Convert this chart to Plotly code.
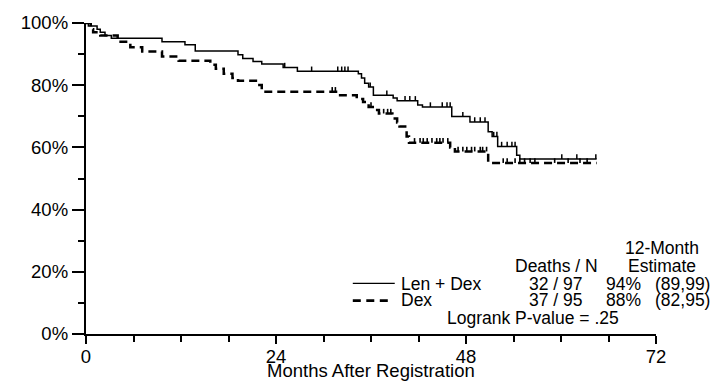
import numpy as np
import plotly.graph_objects as go

# ---------------- data ----------------
len_dex_times = [0.3, 1.4, 1.8, 2.4, 3.2, 9.6, 12.5, 13.8, 19.2, 19.8, 21.1, 22.2, 24.9, 26.7,
                 34.4, 34.8, 35.2, 35.7, 36.3, 38.8, 39.3, 41.9, 42.5, 46.2, 48.5, 50.8, 51.3,
                 52.0, 54.4, 54.8]
len_dex_surv = [99.0, 98.0, 97.0, 96.0, 95.1, 94.0, 93.0, 91.0, 89.8, 88.6, 87.6, 86.8, 85.7, 84.5,
                83.7, 82.3, 80.6, 79.4, 76.8, 75.9, 75.0, 73.6, 73.0, 69.9, 68.2, 65.0, 63.5,
                60.3, 57.5, 56.3]
len_dex_censor = [25.1, 28.5, 31.8, 32.3, 32.7, 33.1, 35.9, 38.0, 40.3, 40.9, 41.6, 43.5, 45.0,
                  45.6, 46.0, 47.6, 49.1, 49.8, 50.4, 51.5, 51.9, 52.5, 53.2, 53.8, 54.2, 60.1,
                  62.0, 64.4]
len_dex_end = 64.5

dex_times = [0.6, 0.9, 1.8, 4.0, 5.6, 7.1, 9.6, 11.7, 15.7, 16.4, 17.4, 18.5, 19.2, 21.7, 22.2,
             31.8, 34.2, 35.0, 35.7, 36.4, 37.0, 38.7, 39.3, 39.6, 40.5, 40.8, 46.0, 46.6, 50.8]
dex_surv = [98.0, 97.0, 96.0, 94.0, 92.2, 90.8, 89.2, 87.9, 86.6, 85.3, 83.7, 82.3, 81.4, 80.1, 77.9,
            76.8, 75.6, 74.6, 73.0, 72.0, 70.9, 69.3, 68.0, 66.7, 63.5, 61.5, 60.0, 58.7, 55.0]
dex_censor = [31.1, 31.5, 36.0, 37.6, 38.1, 38.5, 41.5, 42.2, 42.6, 43.1, 43.7, 44.3, 44.7, 45.1,
              45.7, 47.0, 47.6, 48.1, 48.7, 49.1, 49.8, 50.1, 50.6, 52.7, 53.2, 54.2, 54.8, 55.4,
              56.1, 56.7, 59.2, 60.9, 62.4, 63.3]
dex_end = 64.5

x_tick_vals = [0, 24, 48, 72]
y_tick_vals = [0, 20, 40, 60, 80, 100]
y_tick_text = ["0%", "20%", "40%", "60%", "80%", "100%"]

arms = ["Len + Dex", "Dex"]
deaths_n = ["32 / 97", "37 / 95"]
est_12m = ["94%", "88%"]
est_ci = ["(89,99)", "(82,95)"]
p_text = "Logrank P-value = .25"

FONT = "Liberation Sans, Arial, sans-serif"
TICK_H = 1.5  # censor tick height in %
X_MAX = 72.0


def step_xy(times, surv, end):
    return [0] + list(times) + [end], [100] + list(surv) + [surv[-1]]


def censor_xy(times, surv, cens):
    t = np.asarray(times)
    xs, ys = [], []
    for c in cens:
        i = np.searchsorted(t, c, side="right") - 1
        s = 100.0 if i < 0 else surv[i]
        xs += [c, c, None]
        ys += [s, s + TICK_H, None]
    return xs, ys


fig = go.Figure()

x1, y1 = step_xy(len_dex_times, len_dex_surv, len_dex_end)
fig.add_trace(go.Scatter(x=x1, y=y1, mode="lines", line=dict(color="black", width=1.5, shape="hv"),
                         cliponaxis=False, hoverinfo="skip"))
cx, cy = censor_xy(len_dex_times, len_dex_surv, len_dex_censor)
fig.add_trace(go.Scatter(x=cx, y=cy, mode="lines", line=dict(color="black", width=1.5),
                         cliponaxis=False, hoverinfo="skip"))

x2, y2 = step_xy(dex_times, dex_surv, dex_end)
fig.add_trace(go.Scatter(x=x2, y=y2, mode="lines",
                         line=dict(color="black", width=2.5, shape="hv", dash="8px,5px"),
                         cliponaxis=False, hoverinfo="skip"))
cx, cy = censor_xy(dex_times, dex_surv, dex_censor)
fig.add_trace(go.Scatter(x=cx, y=cy, mode="lines", line=dict(color="black", width=1.6),
                         cliponaxis=False, hoverinfo="skip"))

axis_common = dict(showline=True, linecolor="black", linewidth=2.4, showgrid=False, zeroline=False,
                   ticks="outside", tickcolor="black", tickwidth=2.4,
                   tickfont=dict(family=FONT, size=18.5, color="black"))

fig.update_xaxes(range=[0, X_MAX], tickvals=x_tick_vals, ticklen=8, ticklabelstandoff=-3,
                 minor=dict(dtick=6, tick0=0, ticklen=6, tickwidth=2.4, tickcolor="black",
                            ticks="outside", showgrid=False),
                 **axis_common)
fig.update_yaxes(range=[0, 100], tickvals=y_tick_vals, ticktext=y_tick_text, ticklen=12,
                 minor=dict(dtick=10, tick0=0, ticklen=6, tickwidth=2.4, tickcolor="black",
                            ticks="outside", showgrid=False),
                 **axis_common)

LF = dict(family=FONT, size=17.5, color="black")


def note(xm, y, text, anchor):
    # xm in months; placed via paper x so texts beyond the axis end stay visible
    return dict(x=xm / X_MAX, y=y, xref="paper", yref="y", text=text, showarrow=False,
                xanchor=anchor, yanchor="middle", font=LF)


ann = [dict(x=36, y=-0.118, xref="x", yref="paper", text="Months After Registration",
            showarrow=False, xanchor="center", yanchor="middle",
            font=dict(family=FONT, size=18.5, color="black"))]
ann.append(note(72.75, 27.5, "12-Month", "center"))
ann.append(note(72.75, 21.9, "Estimate", "center"))
ann.append(note(59.4, 21.9, "Deaths / N", "center"))
rows_y = [16.0, 10.8]
for i in range(2):
    ann.append(note(39.5, rows_y[i], arms[i], "left"))
    ann.append(note(59.4, rows_y[i], deaths_n[i], "center"))
    ann.append(note(70.36, rows_y[i], est_12m[i], "right"))
    ann.append(note(79.07, rows_y[i], est_ci[i], "right"))
ann.append(note(56.5, 5.2, p_text, "center"))

shapes = [
    dict(type="line", xref="x", yref="y", x0=33.7, x1=39.0, y0=16.3, y1=16.3,
         line=dict(color="black", width=1.2)),
    dict(type="line", xref="x", yref="y", x0=33.7, x1=38.4, y0=10.7, y1=10.7,
         line=dict(color="black", width=2.7, dash="8px,5.5px")),
]

fig.update_layout(width=715, height=382, margin=dict(l=86, r=59, t=20, b=48),
                  paper_bgcolor="white", plot_bgcolor="white", showlegend=False,
                  annotations=ann, shapes=shapes, font=dict(family=FONT, color="black"))

fig.write_html("out.html", config={"displayModeBar": False},
               post_script="document.body.style.margin='0';document.body.style.overflow='hidden';")
